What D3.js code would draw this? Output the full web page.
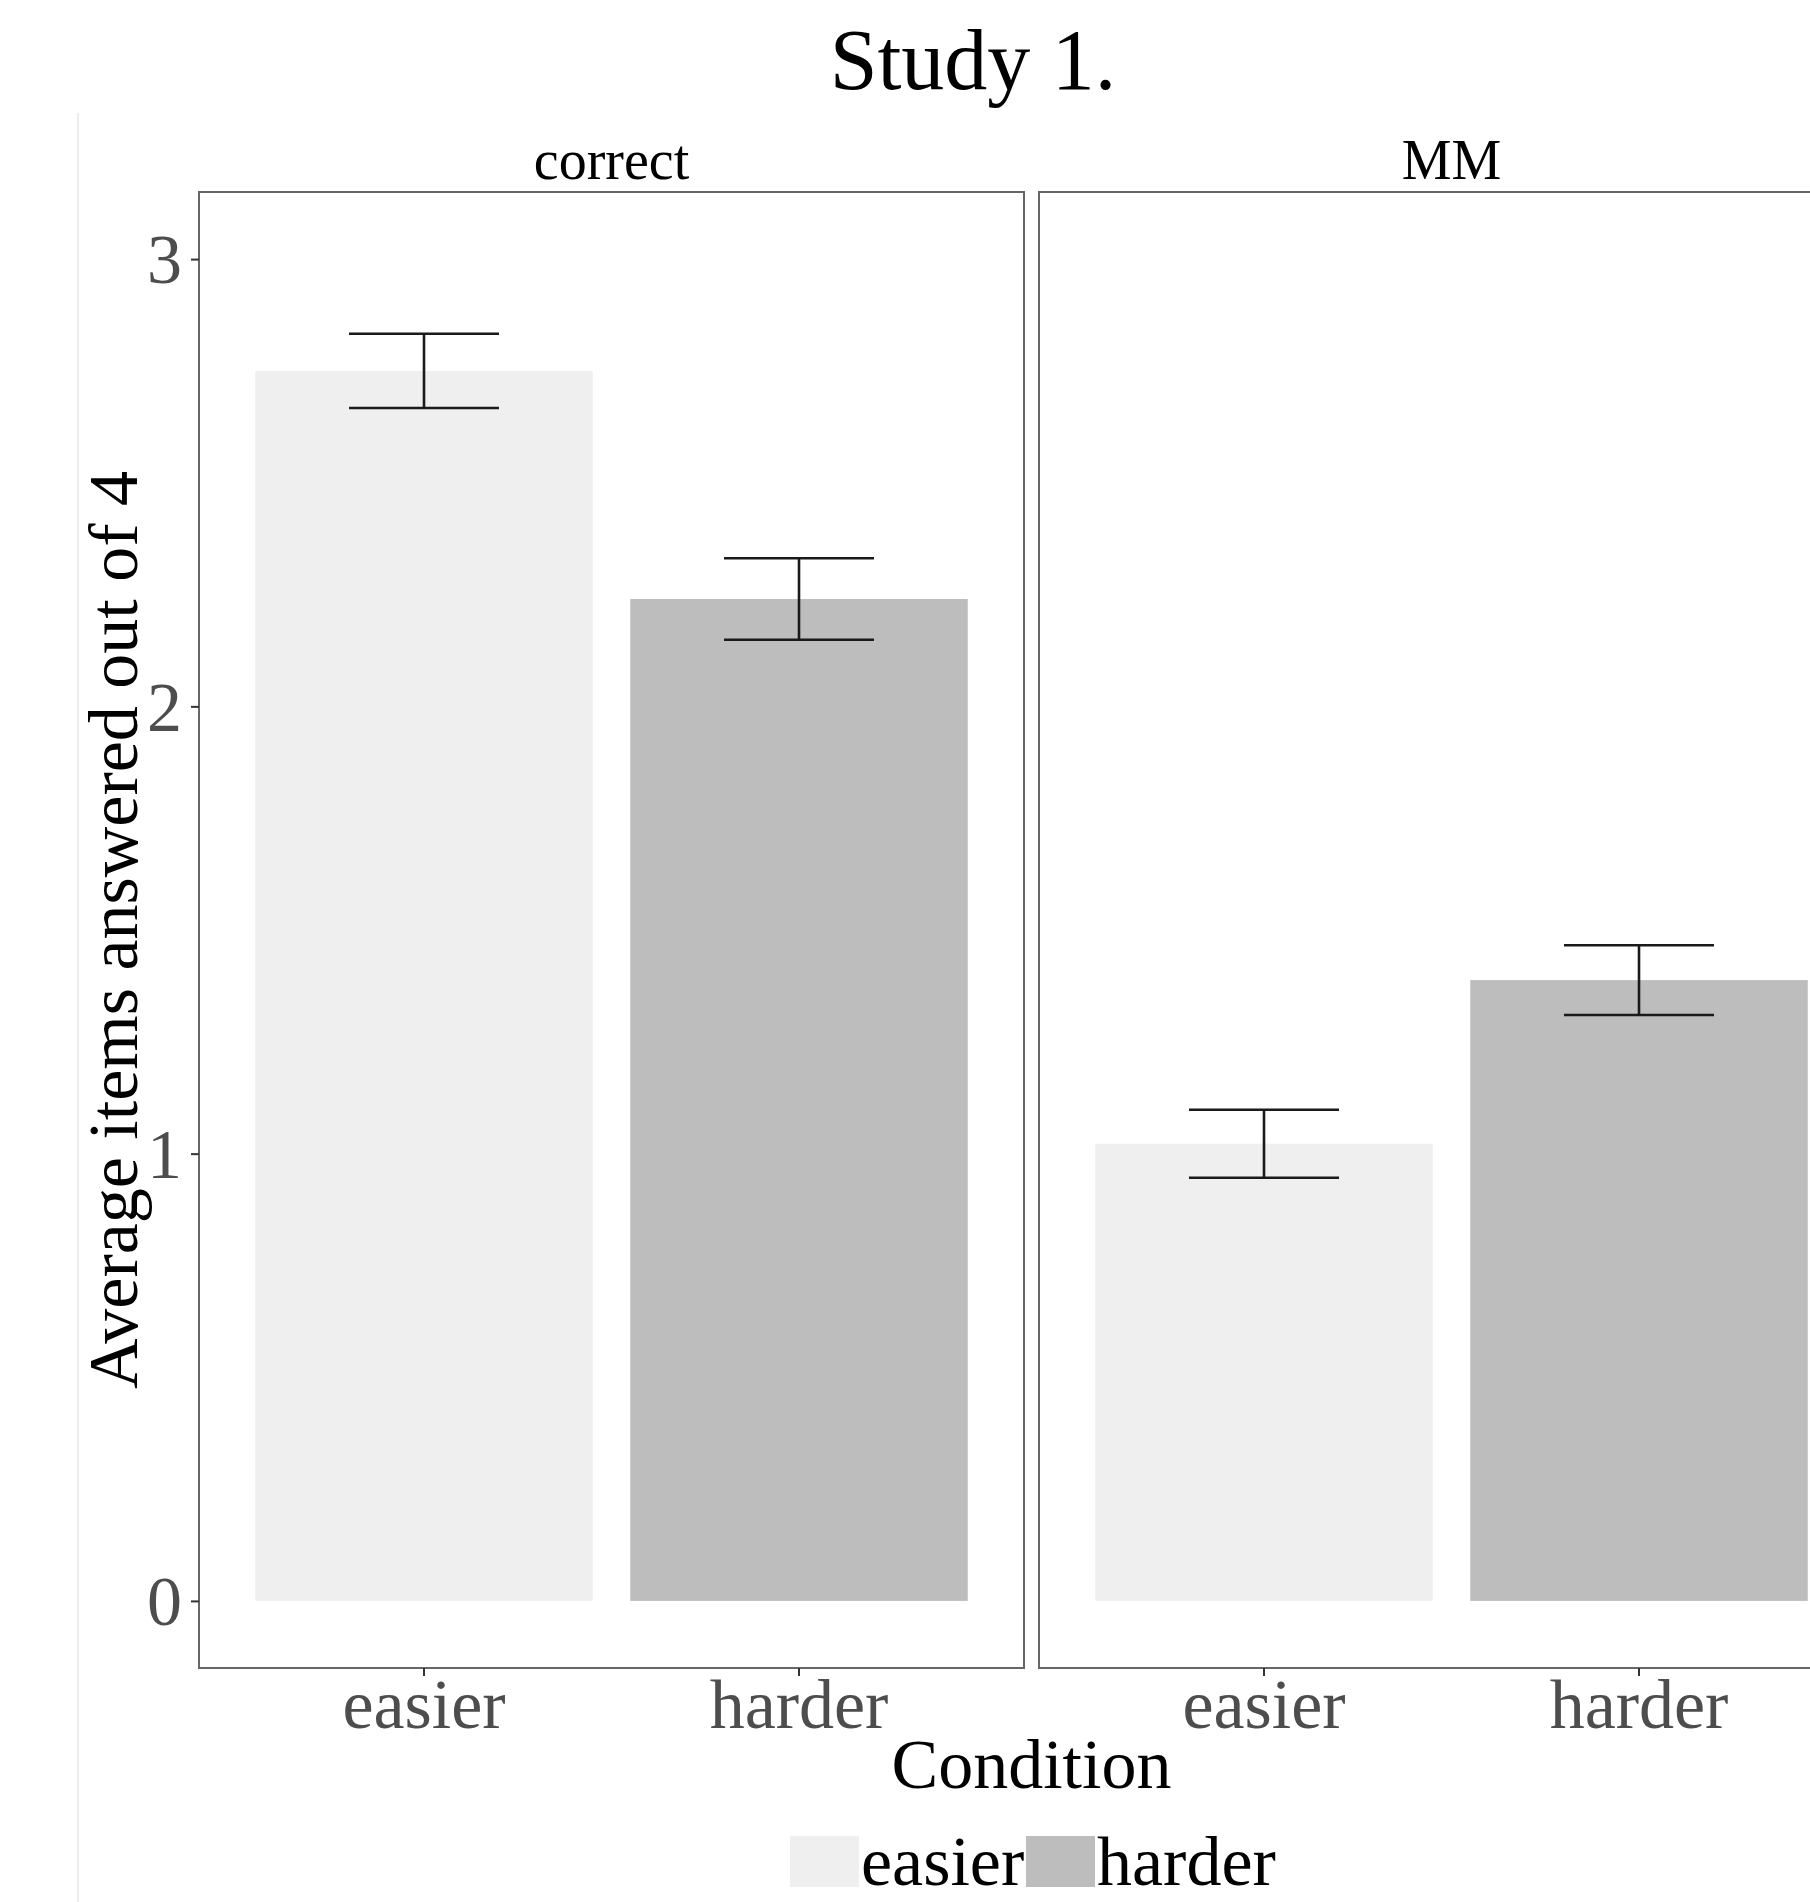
<!DOCTYPE html>
<html>
<head>
<meta charset="utf-8">
<script src="https://cdn.jsdelivr.net/npm/d3@7/dist/d3.min.js"></script>
<style>
  body { margin: 0; background: #fff; }
  text { font-family: 'Liberation Serif', 'Times New Roman', serif; }
</style>
</head>
<body>
<div id="chart"></div>
<script>
// data
const facets = ['correct', 'MM']
const conditions = ['easier', 'harder']
const correctMeans = [2.75, 2.24]
const correctSE = [0.083, 0.091]
const mmMeans = [1.022, 1.388]
const mmSE = [0.076, 0.078]
const yTicks = [0, 1, 2, 3]
const yDomain = [-0.15, 3.15]

const fillColor = ['#efefef', '#bdbdbd']

const width = 1810
const height = 1902
const panelTop = 192
const panelBottom = 1668
const panelWidth = 825
const panelLefts = [199, 1039]

const seriesByFacet = [
  { name: facets[0], means: correctMeans, se: correctSE },
  { name: facets[1], means: mmMeans, se: mmSE }
]

const svg = d3.select('#chart').append('svg')
  .attr('width', width)
  .attr('height', height)

const y = d3.scaleLinear()
  .domain(yDomain)
  .range([panelBottom, panelTop])

const x = d3.scaleBand()
  .domain(conditions)
  .range([0, panelWidth])
  .paddingInner(0.1)
  .paddingOuter(0.15)

const capHalf = x.bandwidth() * (0.4 / 0.9) / 2

// faint line at the left edge of the image
svg.append('line')
  .attr('x1', 78).attr('x2', 78)
  .attr('y1', 113).attr('y2', height)
  .attr('stroke', '#e6e6e6')
  .attr('stroke-width', 1.5)

// title
svg.append('text')
  .attr('x', 973)
  .attr('y', 89)
  .attr('text-anchor', 'middle')
  .style('font-size', '86px')
  .style('fill', '#000')
  .text('Study 1.')

seriesByFacet.forEach(function (facet, f) {
  const g = svg.append('g')
    .attr('transform', 'translate(' + panelLefts[f] + ',0)')

  // strip label
  g.append('text')
    .attr('x', panelWidth / 2)
    .attr('y', 179)
    .attr('text-anchor', 'middle')
    .style('font-size', '56px')
    .style('fill', '#000')
    .text(facet.name)

  // bars
  g.selectAll('rect.bar')
    .data(facet.means)
    .enter().append('rect')
    .attr('class', 'bar')
    .attr('x', function (d, i) { return x(conditions[i]) })
    .attr('y', function (d) { return y(d) })
    .attr('width', x.bandwidth())
    .attr('height', function (d) { return y(0) - y(d) })
    .attr('fill', function (d, i) { return fillColor[i] })

  // error bars
  const err = g.selectAll('g.err')
    .data(facet.means)
    .enter().append('g')
    .attr('class', 'err')
    .attr('stroke', '#1a1a1a')
    .attr('stroke-width', 2.6)

  err.append('line')
    .attr('x1', function (d, i) { return x(conditions[i]) + x.bandwidth() / 2 })
    .attr('x2', function (d, i) { return x(conditions[i]) + x.bandwidth() / 2 })
    .attr('y1', function (d, i) { return y(d + facet.se[i]) })
    .attr('y2', function (d, i) { return y(d - facet.se[i]) })

  err.append('line')
    .attr('x1', function (d, i) { return x(conditions[i]) + x.bandwidth() / 2 - capHalf })
    .attr('x2', function (d, i) { return x(conditions[i]) + x.bandwidth() / 2 + capHalf })
    .attr('y1', function (d, i) { return y(d + facet.se[i]) })
    .attr('y2', function (d, i) { return y(d + facet.se[i]) })

  err.append('line')
    .attr('x1', function (d, i) { return x(conditions[i]) + x.bandwidth() / 2 - capHalf })
    .attr('x2', function (d, i) { return x(conditions[i]) + x.bandwidth() / 2 + capHalf })
    .attr('y1', function (d, i) { return y(d - facet.se[i]) })
    .attr('y2', function (d, i) { return y(d - facet.se[i]) })

  // panel border
  g.append('rect')
    .attr('x', 0)
    .attr('y', panelTop)
    .attr('width', panelWidth)
    .attr('height', panelBottom - panelTop)
    .attr('fill', 'none')
    .attr('stroke', '#666')
    .attr('stroke-width', 2)

  // x axis
  const xAxis = d3.axisBottom(x).tickSize(8).tickPadding(8)
  const xg = g.append('g')
    .attr('transform', 'translate(0,' + panelBottom + ')')
    .call(xAxis)
  xg.select('.domain').remove()
  xg.selectAll('line').attr('stroke', '#333').attr('stroke-width', 2)
  xg.selectAll('text')
    .attr('y', 60)
    .attr('dy', 0)
    .style('font-size', '70px')
    .style('font-family', "'Liberation Serif', 'Times New Roman', serif")
    .style('fill', '#4d4d4d')

  // y axis only on the first panel
  if (f === 0) {
    const yAxis = d3.axisLeft(y).tickValues(yTicks).tickSize(8).tickPadding(9)
      .tickFormat(d3.format('d'))
    const yg = g.append('g').call(yAxis)
    yg.select('.domain').remove()
    yg.selectAll('line').attr('stroke', '#333').attr('stroke-width', 2)
    yg.selectAll('text')
      .attr('dy', '0.34em')
      .style('font-size', '70px')
      .style('font-family', "'Liberation Serif', 'Times New Roman', serif")
      .style('fill', '#4d4d4d')
  }
})

// axis titles
svg.append('text')
  .attr('x', (panelLefts[0] + panelLefts[1] + panelWidth) / 2)
  .attr('y', 1788)
  .attr('text-anchor', 'middle')
  .style('font-size', '70px')
  .style('fill', '#000')
  .text('Condition')

svg.append('text')
  .attr('transform', 'translate(137,' + (panelTop + panelBottom) / 2 + ') rotate(-90)')
  .attr('text-anchor', 'middle')
  .style('font-size', '70px')
  .style('fill', '#000')
  .text('Average items answered out of 4')

// legend
const legendX = [790, 1026]
const legend = svg.selectAll('.legend')
  .data(conditions)
  .enter().append('g')
  .attr('class', 'legend')
  .attr('transform', function (d, i) { return 'translate(' + legendX[i] + ',1836)' })

legend.append('rect')
  .attr('width', 69)
  .attr('height', 51)
  .attr('fill', function (d, i) { return fillColor[i] })

legend.append('text')
  .attr('x', 71)
  .attr('y', 49)
  .style('font-size', '70px')
  .style('fill', '#000')
  .text(function (d) { return d })
</script>
</body>
</html>
